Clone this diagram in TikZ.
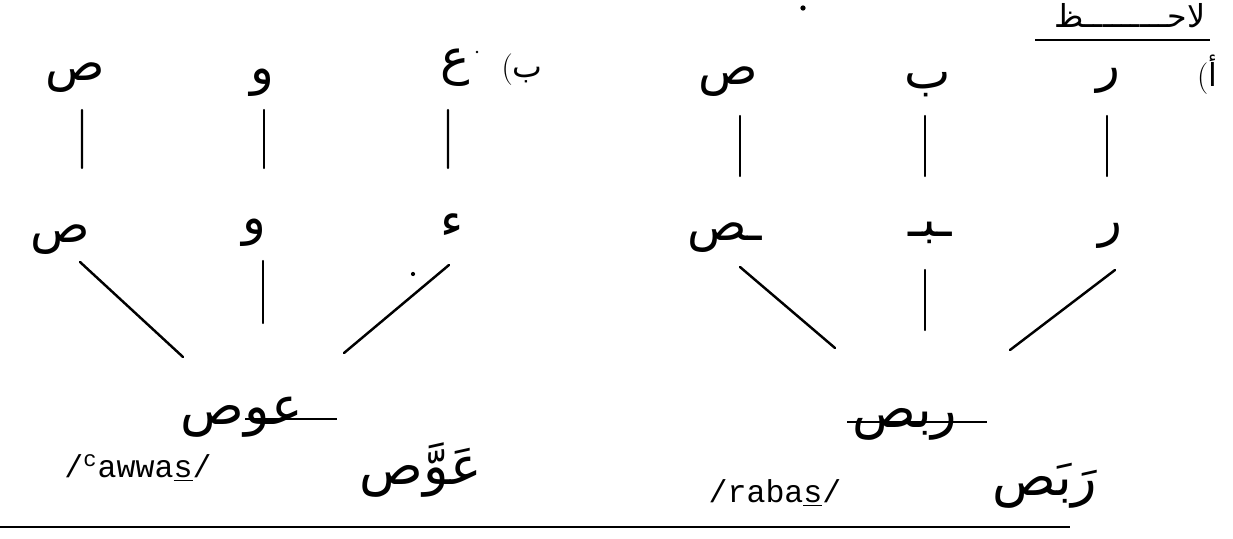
\documentclass[tikz,border=0pt]{standalone}
\usepackage{fontspec}
\setmonofont{Liberation Mono}
\newfontfamily\arabicfont[Script=Arabic]{DejaVu Sans}
\TeXXeTstate=1

\begin{document}
\begin{tikzpicture}[
  letter/.style={inner sep=0pt, font=\arabicfont\fontsize{28}{32}\selectfont},
  word/.style={inner sep=0pt, font=\arabicfont\fontsize{30}{34}\selectfont},
  small/.style={inner sep=0pt, font=\arabicfont\fontsize{18}{22}\selectfont},
  translit/.style={inner sep=0pt, font=\ttfamily\fontsize{18}{21}\selectfont},
  link/.style={line width=1.4pt, line cap=round},
  rule/.style={line width=1pt}
]
\useasboundingbox (0,0) rectangle (24.66,-10.78);

% heading
\node[small] (head) at (22.60,-0.32) {\beginR لاحـــــــــظ\endR};
\draw[rule] (20.7,-0.8) -- (24.2,-0.8);

% top row
\node[letter] (tS) at (1.50,-1.56) {\beginR ص\endR};
\node[letter] (tW) at (5.24,-1.66) {\beginR و\endR};
\node[letter] (tA) at (9.10,-1.36) {\beginR ع\endR};
\node[small] (lb) at (10.44,-1.40) {\normalfont(\arabicfont ب};
\node[letter] (tS2) at (14.56,-1.64) {\beginR ص\endR};
\node[letter] (tB) at (18.56,-1.70) {\beginR ب\endR};
\node[letter] (tR) at (22.16,-1.62) {\beginR ر\endR};
\node[small] (la) at (24.14,-1.50) {\normalfont(\arabicfont أ};

% middle row
\node[letter] (mS) at (1.20,-4.80) {\beginR ص\endR};
\node[letter] (mW) at (5.08,-4.66) {\beginR و\endR};
\node[letter] (mA) at (9.04,-4.52) {\beginR ء\endR};
\node[letter] (mS2) at (14.50,-4.76) {\beginR ـص\endR};
\node[letter] (mB) at (18.60,-4.66) {\beginR ـبـ\endR};
\node[letter] (mR) at (22.20,-4.72) {\beginR ر\endR};

% merged forms
\node[word] (wL) at (4.84,-8.34) {\beginR عوص\endR};
\node[word] (wR) at (18.10,-8.48) {\beginR ربص\endR};
\draw[rule] (4.9,-8.38) -- (6.74,-8.38);
\draw[rule] (16.94,-8.44) -- (19.74,-8.44);

\node[translit] (trL) at (2.76,-9.36) {/\textsuperscript{c}awwa\underline{s}/};
\node[translit] (trR) at (15.50,-9.86) {/raba\underline{s}/};
\node[word] (vL) at (8.42,-9.40) {\beginR عَوَّص\endR};
\node[word] (vR) at (20.90,-9.72) {\beginR رَبَص\endR};

% roots down to stems
\draw[link] ([shift={(0.14,-0.64)}]tS.center) -- ([shift={(0.44,1.44)}]mS.center);
\draw[link] ([shift={(0.04,-0.54)}]tW.center) -- ([shift={(0.20,1.30)}]mW.center);
\draw[link] ([shift={(-0.14,-0.84)}]tA.center) -- ([shift={(-0.08,1.16)}]mA.center);
\draw[link] ([shift={(0.24,-0.68)}]tS2.center) -- ([shift={(0.30,1.24)}]mS2.center);
\draw[link] ([shift={(-0.06,-0.62)}]tB.center) -- ([shift={(-0.10,1.14)}]mB.center);
\draw[link] ([shift={(-0.02,-0.70)}]tR.center) -- ([shift={(-0.06,1.20)}]mR.center);

% stems into words
\draw[link] ([shift={(0.40,-0.44)}]mS.center) -- ([shift={(-1.18,1.20)}]wL.center);
\draw[link] ([shift={(0.18,-0.56)}]mW.center) -- ([shift={(0.42,1.88)}]wL.center);
\draw[link] ([shift={(-0.06,-0.78)}]mA.center) -- ([shift={(2.04,1.28)}]wL.center);
\draw[link] ([shift={(0.30,-0.58)}]mS2.center) -- ([shift={(-1.40,1.52)}]wR.center);
\draw[link] ([shift={(-0.10,-0.74)}]mB.center) -- ([shift={(0.40,1.88)}]wR.center);
\draw[link] ([shift={(0.10,-0.68)}]mR.center) -- ([shift={(2.10,1.48)}]wR.center);

% specks
\fill (16.06,-0.16) circle (1.5pt);
\fill (9.54,-1.04) circle (0.8pt);
\fill (8.26,-5.48) circle (1.2pt);

\draw[rule] (0,-10.54) -- (21.4,-10.54);
\end{tikzpicture}
\end{document}
